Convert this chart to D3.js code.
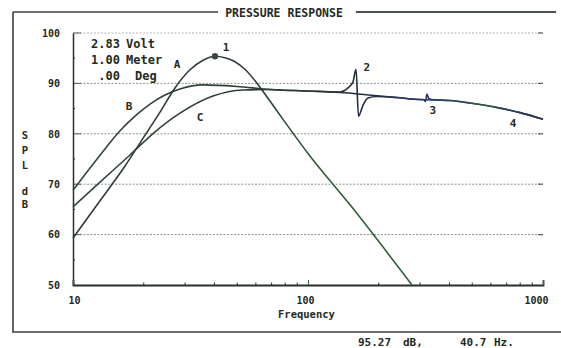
<!DOCTYPE html>
<html><head><meta charset="utf-8">
<script src="https://cdn.jsdelivr.net/npm/d3@7"></script>
<style>
html,body{margin:0;padding:0;background:#fff;}
svg text{font-family:"DejaVu Sans Mono","Liberation Mono",monospace;font-weight:bold;fill:#1f2a22;}
</style></head>
<body>
<svg id="c" width="561" height="348"></svg>
<script>
// ---------- data ----------
const titleText = "PRESSURE RESPONSE";
const yTicks = [50, 60, 70, 80, 90, 100];
const yGrid = [60, 70, 80, 90, 100];
const yMinor = [55, 65, 75, 85, 95];
const xLabelTicks = [10, 100, 1000];
const xMinorTicks = [20,30,40,50,60,70,80,90,200,300,400,500,600,700,800,900];
const infoLines = [["2.83","Volt"],["1.00","Meter"],[".00","Deg"]];
const readout = ["95.27","dB,","40.7","Hz."];

// curve A (peaked, steep roll-off)
const curveA_f  = [10, 13.03, 16.65, 19.66, 23.46, 27.16, 31.47, 35.75, 40.2, 44.3, 48.9, 53.9, 61.2, 68.9, 76.0, 100, 151, 277];
const curveA_db = [59.3, 66.7, 73.6, 78.8, 84.3, 89.1, 92.7, 94.6, 95.4, 95.1, 94.3, 92.8, 89.8, 86.5, 83.7, 76.1, 65.9, 50.0];
// curve B
const curveB_f  = [10, 11.81, 13.68, 15.85, 18.36, 21.27, 24.63, 28.53, 35.7, 49.9, 68.9, 76.0, 100, 136.8, 202.4, 299.6, 402.1, 489, 656, 798, 1000];
const curveB_db = [68.8, 73.2, 77.0, 80.6, 83.5, 85.9, 87.7, 88.9, 89.7, 89.4, 88.8, 88.7, 88.5, 88.2, 87.5, 86.8, 86.6, 86.1, 85.1, 84.2, 82.9];
// curve C (with resonance "2" and glitch "3")
const curveC_f  = [10, 13.03, 17.48, 22.34, 28.53, 39.4, 52.9, 68.9, 76.0, 100, 136.8, 148, 155.4, 160.1, 164.0, 171.5, 180, 196.6, 240, 299.6, 310, 316, 321, 326, 335, 402.1, 489, 656, 798, 1000];
const curveC_db = [65.5, 70.4, 75.8, 80.4, 84.1, 87.5, 88.7, 88.8, 88.7, 88.5, 88.3, 89.1, 90.3, 92.8, 83.5, 85.7, 87.1, 87.4, 87.2, 86.8, 86.8, 86.4, 87.9, 87.0, 86.8, 86.6, 86.1, 85.1, 84.2, 82.9];
const markerPoint = [40.2, 95.4];

const curveLabels = [
  {t:"1", f:44.8, db:97.2},
  {t:"A", f:27.7, db:93.8},
  {t:"B", f:17.3, db:85.5},
  {t:"C", f:34.7, db:83.3},
  {t:"2", f:178, db:93.1},
  {t:"3", f:340, db:84.7},
  {t:"4", f:745, db:82.1}
];

// ---------- drawing ----------
const svg = d3.select("#c");
const x = d3.scaleLog().domain([10, 1000]).range([73, 543]);
const y = d3.scaleLinear().domain([50, 100]).range([285, 33]);

const ink = "#26302a";

// outer frame
svg.append("path").attr("d","M13,12 L13,332 L561,332").attr("fill","none").attr("stroke","#3a423c").attr("stroke-width",1.6);
svg.append("line").attr("x1",13).attr("x2",218).attr("y1",12).attr("y2",12).attr("stroke","#3a423c").attr("stroke-width",1.6);
svg.append("line").attr("x1",356).attr("x2",556).attr("y1",12).attr("y2",12).attr("stroke","#4a524c").attr("stroke-width",2.2);
svg.append("text").attr("x",284).attr("y",13).attr("text-anchor","middle").attr("dominant-baseline","central")
  .style("font-size","11.5px").style("font-weight","bold").text(titleText);

// grid
const grid = svg.append("g");
grid.selectAll("line.g").data(yGrid).join("line")
  .attr("x1",x(10)).attr("x2",x(1000)).attr("y1",d=>y(d)).attr("y2",d=>y(d))
  .attr("stroke",d=>d===100?"#b0b8b0":"#889888").attr("stroke-width",1)
  .attr("stroke-dasharray","2,1.5");
grid.selectAll("line.s").data(yGrid).join("line")
  .attr("x1",x(10)).attr("x2",x(10)+8).attr("y1",d=>y(d)).attr("y2",d=>y(d))
  .attr("stroke","#56605a").attr("stroke-width",1);
grid.selectAll("line.r").data(yGrid).join("line")
  .attr("x1",x(1000)-5).attr("x2",x(1000)).attr("y1",d=>y(d)).attr("y2",d=>y(d))
  .attr("stroke","#56605a").attr("stroke-width",1.2);

// left axis
const yAxis = d3.axisLeft(y).tickValues(yTicks).tickSize(0).tickPadding(13).tickFormat(d3.format("d"));
const gy = svg.append("g").attr("transform",`translate(${x(10)},0)`).call(yAxis);
gy.select(".domain").attr("stroke",ink).attr("stroke-width",1.5);
gy.selectAll("text").style("font-size","10px").attr("fill",ink).style("font-family","'DejaVu Sans Mono',monospace").style("font-weight","bold");
svg.append("g").selectAll("line").data(yMinor).join("line")
  .attr("x1",x(10)).attr("x2",x(10)+2).attr("y1",d=>y(d)).attr("y2",d=>y(d)).attr("stroke",ink).attr("stroke-width",1);

// bottom axis
const xAxis = d3.axisBottom(x).tickValues(xLabelTicks).tickSize(-5).tickPadding(12).tickFormat(d3.format("d"));
const gx = svg.append("g").attr("transform",`translate(0,${y(50)})`).call(xAxis);
gx.select(".domain").attr("stroke",ink).attr("stroke-width",1.8);
gx.selectAll(".tick line").attr("stroke","#3f6a45").attr("stroke-width",1.2);
gx.selectAll("text").style("font-size","10px").attr("fill",ink).style("font-family","'DejaVu Sans Mono',monospace").style("font-weight","bold");
gx.selectAll(".tick text").filter(d=>d===1000).attr("dx",-7);
gx.selectAll(".tick text").filter(d=>d===10).attr("dx",1);
gx.selectAll(".tick text").filter(d=>d===100).attr("dx",-3);
svg.append("g").selectAll("line").data(xMinorTicks).join("line")
  .attr("x1",d=>x(d)).attr("x2",d=>x(d)).attr("y1",y(50)).attr("y2",y(50)-2.5).attr("stroke",ink).attr("stroke-width",1);

// axis titles
svg.append("text").attr("x",278).attr("y",314).attr("dominant-baseline","central").style("font-size","10.5px").text("Frequency");
const yTitle = ["S","P","L","","d","B"];
const yTitlePos = [135,150,165,0,191,204];
svg.append("g").selectAll("text").data(yTitle.map((t,i)=>({t,yy:yTitlePos[i]})).filter(d=>d.t)).join("text")
  .attr("x",25).attr("y",d=>d.yy).attr("text-anchor","middle").attr("dominant-baseline","central")
  .style("font-size","10.5px").text(d=>d.t);

// info text
const infoY = [44, 60, 76];
infoLines.forEach((p,i)=>{
  svg.append("text").attr("x",120).attr("y",infoY[i]).attr("text-anchor","end").attr("dominant-baseline","central").style("font-size","12px").text(p[0]);
  svg.append("text").attr("x",i===2?135:126).attr("y",infoY[i]).attr("dominant-baseline","central").style("font-size","12px").text(p[1]);
});

// readout
const readX = [358, 403, 460, 494];
readout.forEach((t,i)=>{
  svg.append("text").attr("x",readX[i]).attr("y",342).attr("dominant-baseline","central").style("font-size","11px").text(t);
});

// gradient for tails
const defs = svg.append("defs");
const grad = defs.append("linearGradient").attr("id","tailGrad").attr("gradientUnits","userSpaceOnUse")
  .attr("x1",73).attr("x2",543).attr("y1",0).attr("y2",0);
[[0,"#33463a"],[0.55,"#2a3a30"],[0.6,"#232a3e"],[0.75,"#283768"],[0.84,"#2c4a5a"],[0.88,"#2f5a44"],[0.93,"#2a3c66"],[1,"#2a3550"]]
  .forEach(s=>grad.append("stop").attr("offset",s[0]).attr("stop-color",s[1]));
const gradA = defs.append("linearGradient").attr("id","aGrad").attr("gradientUnits","userSpaceOnUse")
  .attr("x1",73).attr("x2",543).attr("y1",0).attr("y2",0);
[[0,"#2f3d33"],[0.4,"#2f3d33"],[0.5,"#2e5a38"],[1,"#2e6a3a"]].forEach(s=>gradA.append("stop").attr("offset",s[0]).attr("stop-color",s[1]));

const line = d3.line().x(d=>x(d[0])).y(d=>y(d[1])).curve(d3.curveMonotoneX);
const zip = (f,v)=>f.map((d,i)=>[d,v[i]]);

const plot = svg.append("g");
plot.append("path").datum(zip(curveB_f,curveB_db)).attr("d",line).attr("fill","none").attr("stroke","url(#tailGrad)").attr("stroke-width",1.6);
plot.append("path").datum(zip(curveC_f,curveC_db)).attr("d",line).attr("fill","none").attr("stroke","url(#tailGrad)").attr("stroke-width",1.6);
plot.append("path").datum(zip(curveA_f,curveA_db)).attr("d",line).attr("fill","none").attr("stroke","url(#aGrad)").attr("stroke-width",1.6);

plot.append("circle").attr("cx",x(markerPoint[0])).attr("cy",y(markerPoint[1])).attr("r",3.2).attr("fill","#3a4a40");

svg.append("g").selectAll("text").data(curveLabels).join("text")
  .attr("x",d=>x(d.f)).attr("y",d=>y(d.db)).attr("text-anchor","middle").attr("dominant-baseline","central")
  .style("font-size","11px").text(d=>d.t);
</script>
</body></html>
